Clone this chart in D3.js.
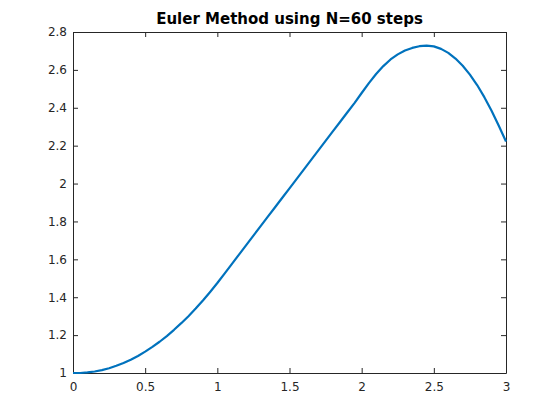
<!DOCTYPE html>
<html lang="en">
<head>
  <meta charset="UTF-8">
  <title>Euler Method using N=60 steps</title>
  <script src="https://d3js.org/d3.v7.min.js"></script>
  <style>
    body {
      margin: 0;
      background: #fff;
      font-family: "DejaVu Sans", sans-serif;
    }
    .axis text {
      fill: #262626;
      font-size: 12px;
      font-family: "DejaVu Sans", sans-serif;
    }
    .axis path,
    .axis line {
      stroke: #262626;
    }
  </style>
</head>
<body>
  <svg id="chart"></svg>

  <script>
    // values, t step 0.05 (N = 60)
    const tValues = [0, 0.05, 0.1, 0.15, 0.2, 0.25, 0.3, 0.35, 0.4, 0.45, 0.5,
      0.55, 0.6, 0.65, 0.7, 0.75, 0.8, 0.85, 0.9, 0.95, 1.0,
      1.05, 1.1, 1.15, 1.2, 1.25, 1.3, 1.35, 1.4, 1.45, 1.5,
      1.55, 1.6, 1.65, 1.7, 1.75, 1.8, 1.85, 1.9, 1.95, 2.0,
      2.05, 2.1, 2.15, 2.2, 2.25, 2.3, 2.35, 2.4, 2.45, 2.5,
      2.55, 2.6, 2.65, 2.7, 2.75, 2.8, 2.85, 2.9, 2.95, 3.0];
    const yValues = [1.000, 1.000, 1.003, 1.008, 1.015, 1.025, 1.038, 1.053, 1.070, 1.090, 1.113,
      1.138, 1.165, 1.195, 1.228, 1.263, 1.300, 1.340, 1.383, 1.428, 1.475,
      1.525, 1.575, 1.625, 1.675, 1.725, 1.775, 1.825, 1.875, 1.925, 1.975,
      2.025, 2.075, 2.125, 2.175, 2.225, 2.275, 2.325, 2.375, 2.425, 2.478,
      2.530, 2.578, 2.620, 2.655, 2.682, 2.702, 2.716, 2.725, 2.728, 2.724,
      2.711, 2.690, 2.660, 2.622, 2.575, 2.520, 2.456, 2.384, 2.305, 2.222];
    const xTicks = [0, 0.5, 1, 1.5, 2, 2.5, 3];
    const yTicks = [1, 1.2, 1.4, 1.6, 1.8, 2, 2.2, 2.4, 2.6, 2.8];
    const title = "Euler Method using N=60 steps";

    const width = 560, height = 420;
    const margin = { top: 32, right: 54, bottom: 47, left: 73 };

    const svg = d3.select("#chart")
      .attr("width", width)
      .attr("height", height);

    const x = d3.scaleLinear()
      .domain([0, 3])
      .range([margin.left, width - margin.right]);

    const y = d3.scaleLinear()
      .domain([1, 2.8])
      .range([height - margin.bottom, margin.top]);

    const fmt = d => String(d);

    // bottom axis (ticks point inwards)
    svg.append("g")
      .attr("class", "axis")
      .attr("transform", `translate(0,${height - margin.bottom})`)
      .call(d3.axisBottom(x).tickValues(xTicks).tickFormat(fmt).tickSizeInner(-5).tickSizeOuter(0).tickPadding(9));

    // top axis
    svg.append("g")
      .attr("class", "axis")
      .attr("transform", `translate(0,${margin.top})`)
      .call(d3.axisTop(x).tickValues(xTicks).tickFormat("").tickSizeInner(-5).tickSizeOuter(0));

    // left axis
    svg.append("g")
      .attr("class", "axis")
      .attr("transform", `translate(${margin.left},0)`)
      .call(d3.axisLeft(y).tickValues(yTicks).tickFormat(fmt).tickSizeInner(-5).tickSizeOuter(0).tickPadding(6));

    // right axis
    svg.append("g")
      .attr("class", "axis")
      .attr("transform", `translate(${width - margin.right},0)`)
      .call(d3.axisRight(y).tickValues(yTicks).tickFormat("").tickSizeInner(-5).tickSizeOuter(0));

    const line = d3.line()
      .x((d, i) => x(tValues[i]))
      .y(d => y(d));

    svg.append("path")
      .datum(yValues)
      .attr("fill", "none")
      .attr("stroke", "#0072BD")
      .attr("stroke-width", 2.2)
      .attr("stroke-linejoin", "round")
      .attr("d", line);

    svg.append("text")
      .attr("x", (margin.left + width - margin.right) / 2)
      .attr("y", 24)
      .attr("text-anchor", "middle")
      .attr("font-weight", "bold")
      .attr("font-size", "15px")
      .attr("fill", "#000")
      .text(title);
  </script>
</body>
</html>
